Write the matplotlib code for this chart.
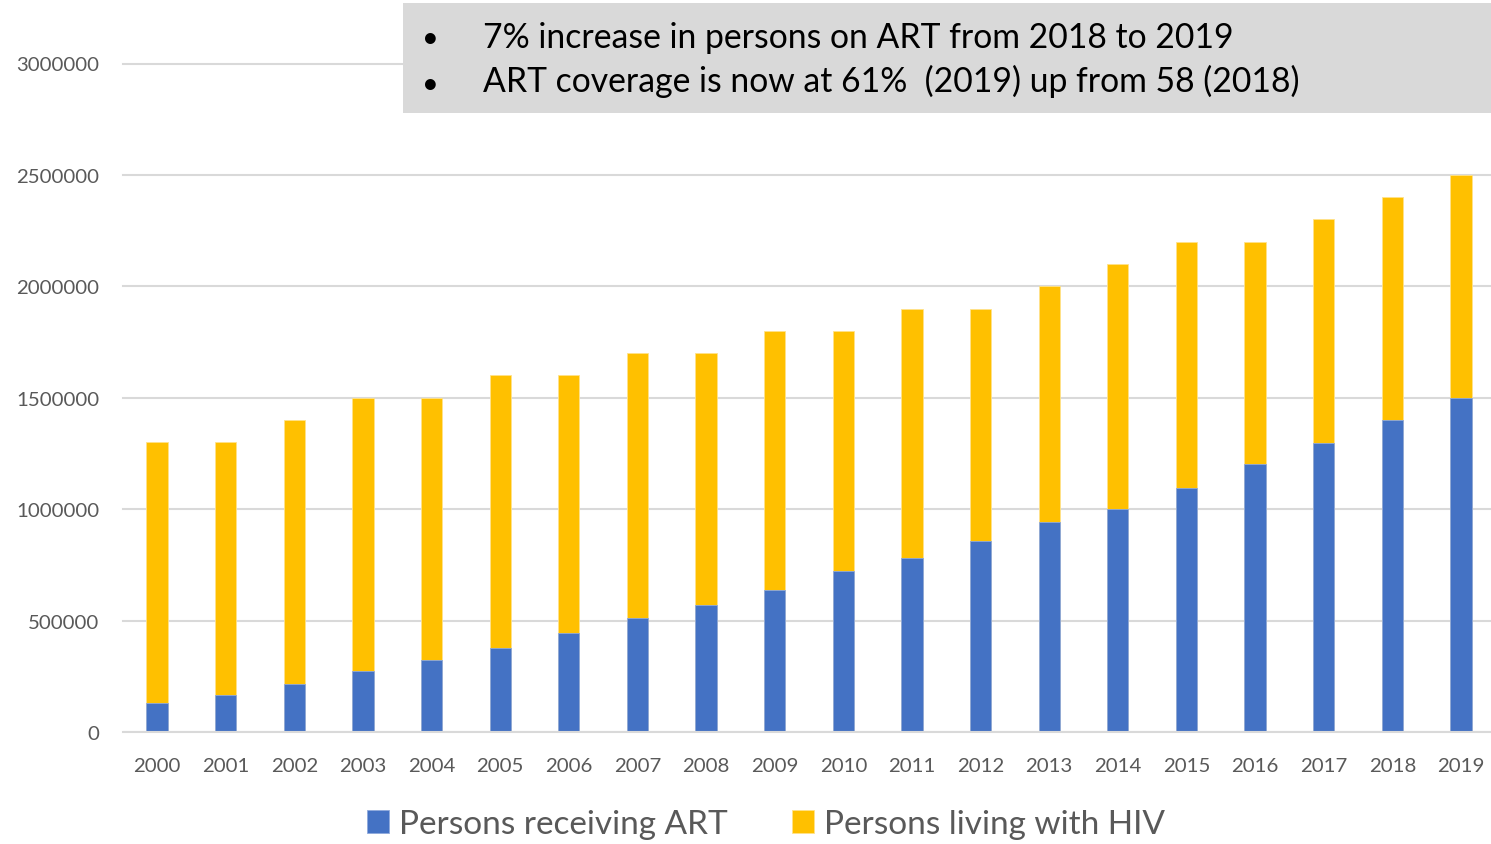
import matplotlib
matplotlib.use("Agg")
import matplotlib.pyplot as plt
from matplotlib import font_manager
from matplotlib.patches import Rectangle

years = [str(y) for y in range(2000, 2020)]
persons_art = [130000, 166000, 215000, 274000, 323000, 377000, 444000, 511000,
               570000, 637000, 722000, 780000, 857000, 942000, 1000000, 1094000,
               1202000, 1296000, 1399000, 1498000]
persons_hiv = [1300000, 1300000, 1400000, 1500000, 1500000, 1600000, 1600000,
               1700000, 1700000, 1800000, 1800000, 1900000, 1900000, 2000000,
               2100000, 2200000, 2200000, 2300000, 2400000, 2500000]
y_ticks = [0, 500000, 1000000, 1500000, 2000000, 2500000, 3000000]
bullets = ["7% increase in persons on ART from 2018 to 2019",
           "ART coverage is now at 61%  (2019) up from 58 (2018)"]
series_names = ["Persons receiving ART", "Persons living with HIV"]

BLUE = "#4472C4"
YELLOW = "#FFC000"
GRID = "#D9D9D9"
TEXT = "#595959"

available = {f.name for f in font_manager.fontManager.ttflist}
FONT = "Lato" if "Lato" in available else "DejaVu Sans"

W, H = 1491, 845
fig = plt.figure(figsize=(W / 100, H / 100), dpi=100)

left, right = 122.7, 1491
bottom, top = 733, 64.5
ax = fig.add_axes([left / W, 1 - bottom / H, (right - left) / W, (bottom - top) / H])

x = list(range(len(years)))
bw = 0.31
ax.bar(x, persons_hiv, width=bw, color=YELLOW, edgecolor="#FFE28A", linewidth=0.6,
       zorder=2, label=series_names[1])
ax.bar(x, persons_art, width=bw, color=BLUE, edgecolor="#8FA9DC", linewidth=0.6,
       zorder=3, label=series_names[0])

slot = 68.63
ax.set_xlim(-0.5, -0.5 + (right - left) / slot)
ax.set_ylim(0, 3000000)
ax.set_yticks(y_ticks)
ax.set_yticklabels([str(v) for v in y_ticks])
ax.set_xticks(x)
ax.set_xticklabels(years)
ax.yaxis.grid(True, color=GRID, linewidth=1.5, zorder=0)
ax.set_axisbelow(True)
for s in ax.spines.values():
    s.set_visible(False)
ax.axhline(0, color=GRID, linewidth=1.5, zorder=4)
for gl in ax.get_ygridlines():
    gl.set_clip_on(False)
ax.tick_params(axis="both", length=0, labelcolor=TEXT)
ax.tick_params(axis="y", pad=17, labelsize=14.7)
ax.tick_params(axis="x", pad=18, labelsize=14.7)
for lbl in ax.get_xticklabels() + ax.get_yticklabels():
    lbl.set_fontfamily(FONT)

# Summary box in the top-right corner
box = Rectangle((403 / W, 1 - 114 / H), (W - 403) / W, 110 / H,
                transform=fig.transFigure, facecolor=GRID, edgecolor="none", zorder=10)
fig.add_artist(box)
for i, line in enumerate(bullets):
    yb = 1 - (47.5 + i * 45) / H
    fig.text(430 / W, yb, "\u2022", fontsize=21, color="black", va="baseline",
             ha="center", family=FONT, zorder=11)
    fig.text(483 / W, yb, line, fontsize=24.3, color="black", va="baseline",
             ha="left", family=FONT, zorder=11)

handles, labels = ax.get_legend_handles_labels()
order = [1, 0]
leg = fig.legend([handles[i] for i in order], [labels[i] for i in order],
                 loc="center", bbox_to_anchor=(766 / W, 1 - 825 / H), ncol=2,
                 frameon=False, handlelength=0.66, handleheight=0.69,
                 handletextpad=0.3, columnspacing=1.9,
                 prop={"family": FONT, "size": 24})
for t in leg.get_texts():
    t.set_color(TEXT)

fig.savefig("out.png", dpi=100)
